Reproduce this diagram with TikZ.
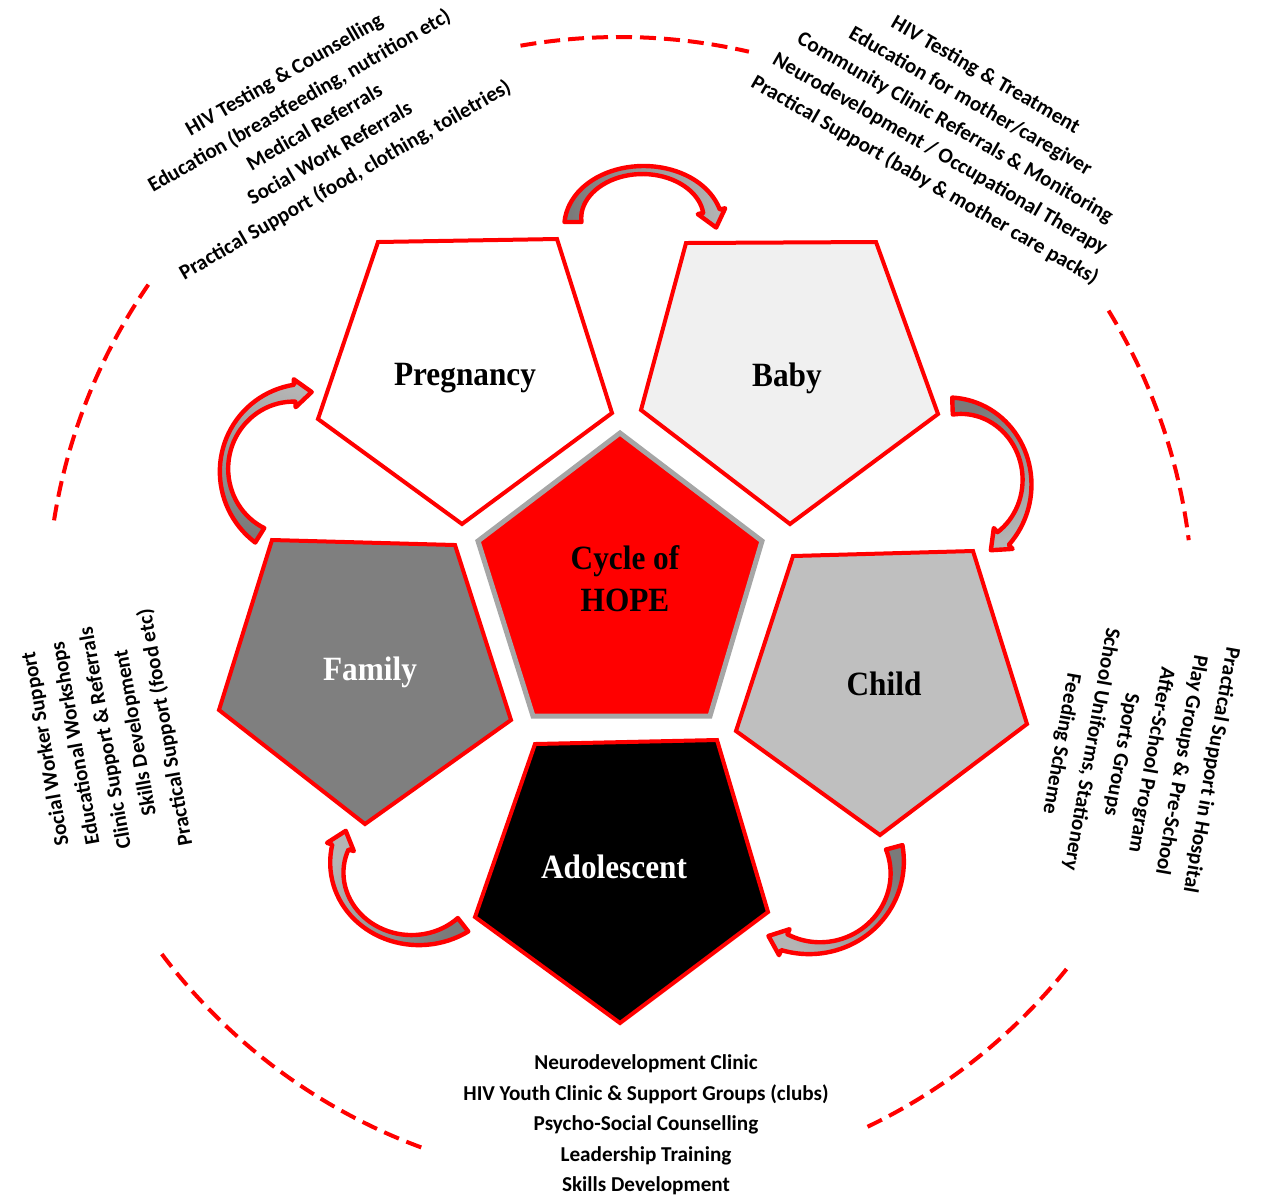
\documentclass[tikz,border=0pt]{standalone}
\usepackage{fontspec}
\setmainfont{Carlito}
\newfontfamily\stagefont[FakeStretch=0.92]{Liberation Serif}
\usetikzlibrary{calc}
\definecolor{hopered}{HTML}{FF0000}
\definecolor{coregray}{HTML}{A6A6A6}
\definecolor{babyfill}{HTML}{F0F0F0}
\definecolor{childfill}{HTML}{BFBFBF}
\definecolor{familyfill}{HTML}{7F7F7F}
\definecolor{tailgray}{HTML}{7A7A7A}
\definecolor{headgray}{HTML}{B4B4B4}

% half width of an arrow band: wide at both ends, narrow in the middle
\def\bandhw{(4+4.5*(2*(\t-\ata)/(\atb-\ata)-1)*(2*(\t-\ata)/(\atb-\ata)-1))}

% curved block arrow along an ellipse: centre, radii, start/end angle, shading angle
\newcommand\hopearrow[7]{%
  \pgfmathsetmacro\acx{#1}\pgfmathsetmacro\acy{#2}%
  \pgfmathsetmacro\arx{#3}\pgfmathsetmacro\ary{#4}%
  \pgfmathsetmacro\ata{#5}\pgfmathsetmacro\atb{#6}%
  \pgfmathsetmacro\abx{\acx+\arx*cos(\atb)}%
  \pgfmathsetmacro\aby{\acy+\ary*sin(\atb)}%
  \pgfmathsetmacro\adx{-\arx*sin(\atb)}%
  \pgfmathsetmacro\ady{\ary*cos(\atb)}%
  \pgfmathsetmacro\adn{veclen(\adx,\ady)}%
  \pgfmathsetmacro\tipx{\abx+17*\adx/\adn}%
  \pgfmathsetmacro\tipy{\aby+17*\ady/\adn}%
  \draw[bandarrow, top color=headgray, bottom color=tailgray, shading angle=#7]
    plot[domain=\ata:\atb, samples=40, variable=\t]
      ({\acx+(\arx+\bandhw)*cos(\t)},{\acy+(\ary+\bandhw)*sin(\t)})
    -- ({\acx+(\arx+14)*cos(\atb)},{\acy+(\ary+14)*sin(\atb)})
    -- (\tipx,\tipy)
    -- ({\acx+(\arx-14)*cos(\atb)},{\acy+(\ary-14)*sin(\atb)})
    -- plot[domain=\atb:\ata, samples=40, variable=\t]
      ({\acx+(\arx-\bandhw)*cos(\t)},{\acy+(\ary-\bandhw)*sin(\t)})
    -- cycle;
}

\begin{document}
\begin{tikzpicture}[x=0.5pt, y=-0.5pt,
  stage/.style={draw=hopered, line width=2pt, line join=miter},
  core/.style={draw=coregray, line width=2.5pt, fill=hopered, line join=miter},
  stagelabel/.style={font=\stagefont\bfseries\fontsize{17}{21}\selectfont, inner sep=0pt, align=center},
  service/.style={font=\bfseries\fontsize{10.6}{15.2}\selectfont, align=center, inner sep=0pt},
  dashring/.style={draw=hopered, line width=2pt, dash pattern=on 8pt off 4pt},
  bandarrow/.style={draw=hopered, line width=2.2pt, line join=round}]

\useasboundingbox (0,0) rectangle (1262,1196);

% outer dashed ring
\coordinate (ring) at (620,610);
\foreach \sa/\ea in {260/283, 328.5/353, 38.8/64.5, 110.3/143.5, 189/215}
  \draw[dashring] ($(ring)+(\sa:573)$) arc[start angle=\sa, end angle=\ea, radius=573];

% the five stages
\draw[stage, fill=white]      (378,242) -- (557,239) -- (612,413) -- (462,524) -- (318,419) -- cycle;
\draw[stage, fill=babyfill]   (686,243) -- (876,242) -- (938,414) -- (790,524) -- (641,410) -- cycle;
\draw[stage, fill=childfill]  (793,556) -- (973,551) -- (1027,724) -- (880,835) -- (736,731) -- cycle;
\draw[stage, fill=black]      (535,744) -- (717,740) -- (768,912) -- (620,1023) -- (475,917) -- cycle;
\draw[stage, fill=familyfill] (272,540) -- (455,545) -- (511,720) -- (365,824) -- (219,710) -- cycle;
% centre
\draw[core] (620,433) -- (762,541) -- (710,716) -- (533,716) -- (478,541) -- cycle;

\node[stagelabel] (pregnancy) at (465,378) {Pregnancy};
\node[stagelabel] (baby) at (787,378) {Baby};
\node[stagelabel] (child) at (884,684) {Child};
\node[stagelabel, text=white] (adolescent) at (614,867) {Adolescent};
\node[stagelabel, text=white] (family) at (370,672) {Family};
\node[stagelabel] (hope) at (625,579) {Cycle of\\HOPE};

% curved arrows between the stages
\hopearrow{643}{222}{70}{52}{180}{348}{-84}
\hopearrow{955}{482}{72}{76}{268}{408}{-155}
\hopearrow{815}{868}{82}{80}{-15}{112}{134}
\hopearrow{415}{868}{78}{72}{52}{197}{58}
\hopearrow{300}{470}{76}{77}{122}{266}{-14}

% services at each stage
\node[service, rotate=30] (prenatal) at (315,128) {HIV Testing \& Counselling\\Education (breastfeeding, nutrition etc)\\Medical Referrals\\Social Work Referrals\\Practical Support (food, clothing, toiletries)};
\node[service, rotate=-30] (infant) at (955,128) {HIV Testing \& Treatment\\Education for mother/caregiver\\Community Clinic Referrals \& Monitoring\\Neurodevelopment / Occupational Therapy\\Practical Support (baby \& mother care packs)};
\node[service, rotate=-100] (childhood) at (1136,757) {Practical Support in Hospital\\Play Groups \& Pre-School\\After-School Program\\Sports Groups\\School Uniforms, Stationery\\Feeding Scheme};
\node[service] (youth) at (646,1125) {Neurodevelopment Clinic\\HIV Youth Clinic \& Support Groups (clubs)\\Psycho-Social Counselling\\Leadership Training\\Skills Development};
\node[service, rotate=100] (household) at (106,738) {Social Worker Support\\Educational Workshops\\Clinic Support \& Referrals\\Skills Development\\Practical Support (food etc)};
\end{tikzpicture}
\end{document}
